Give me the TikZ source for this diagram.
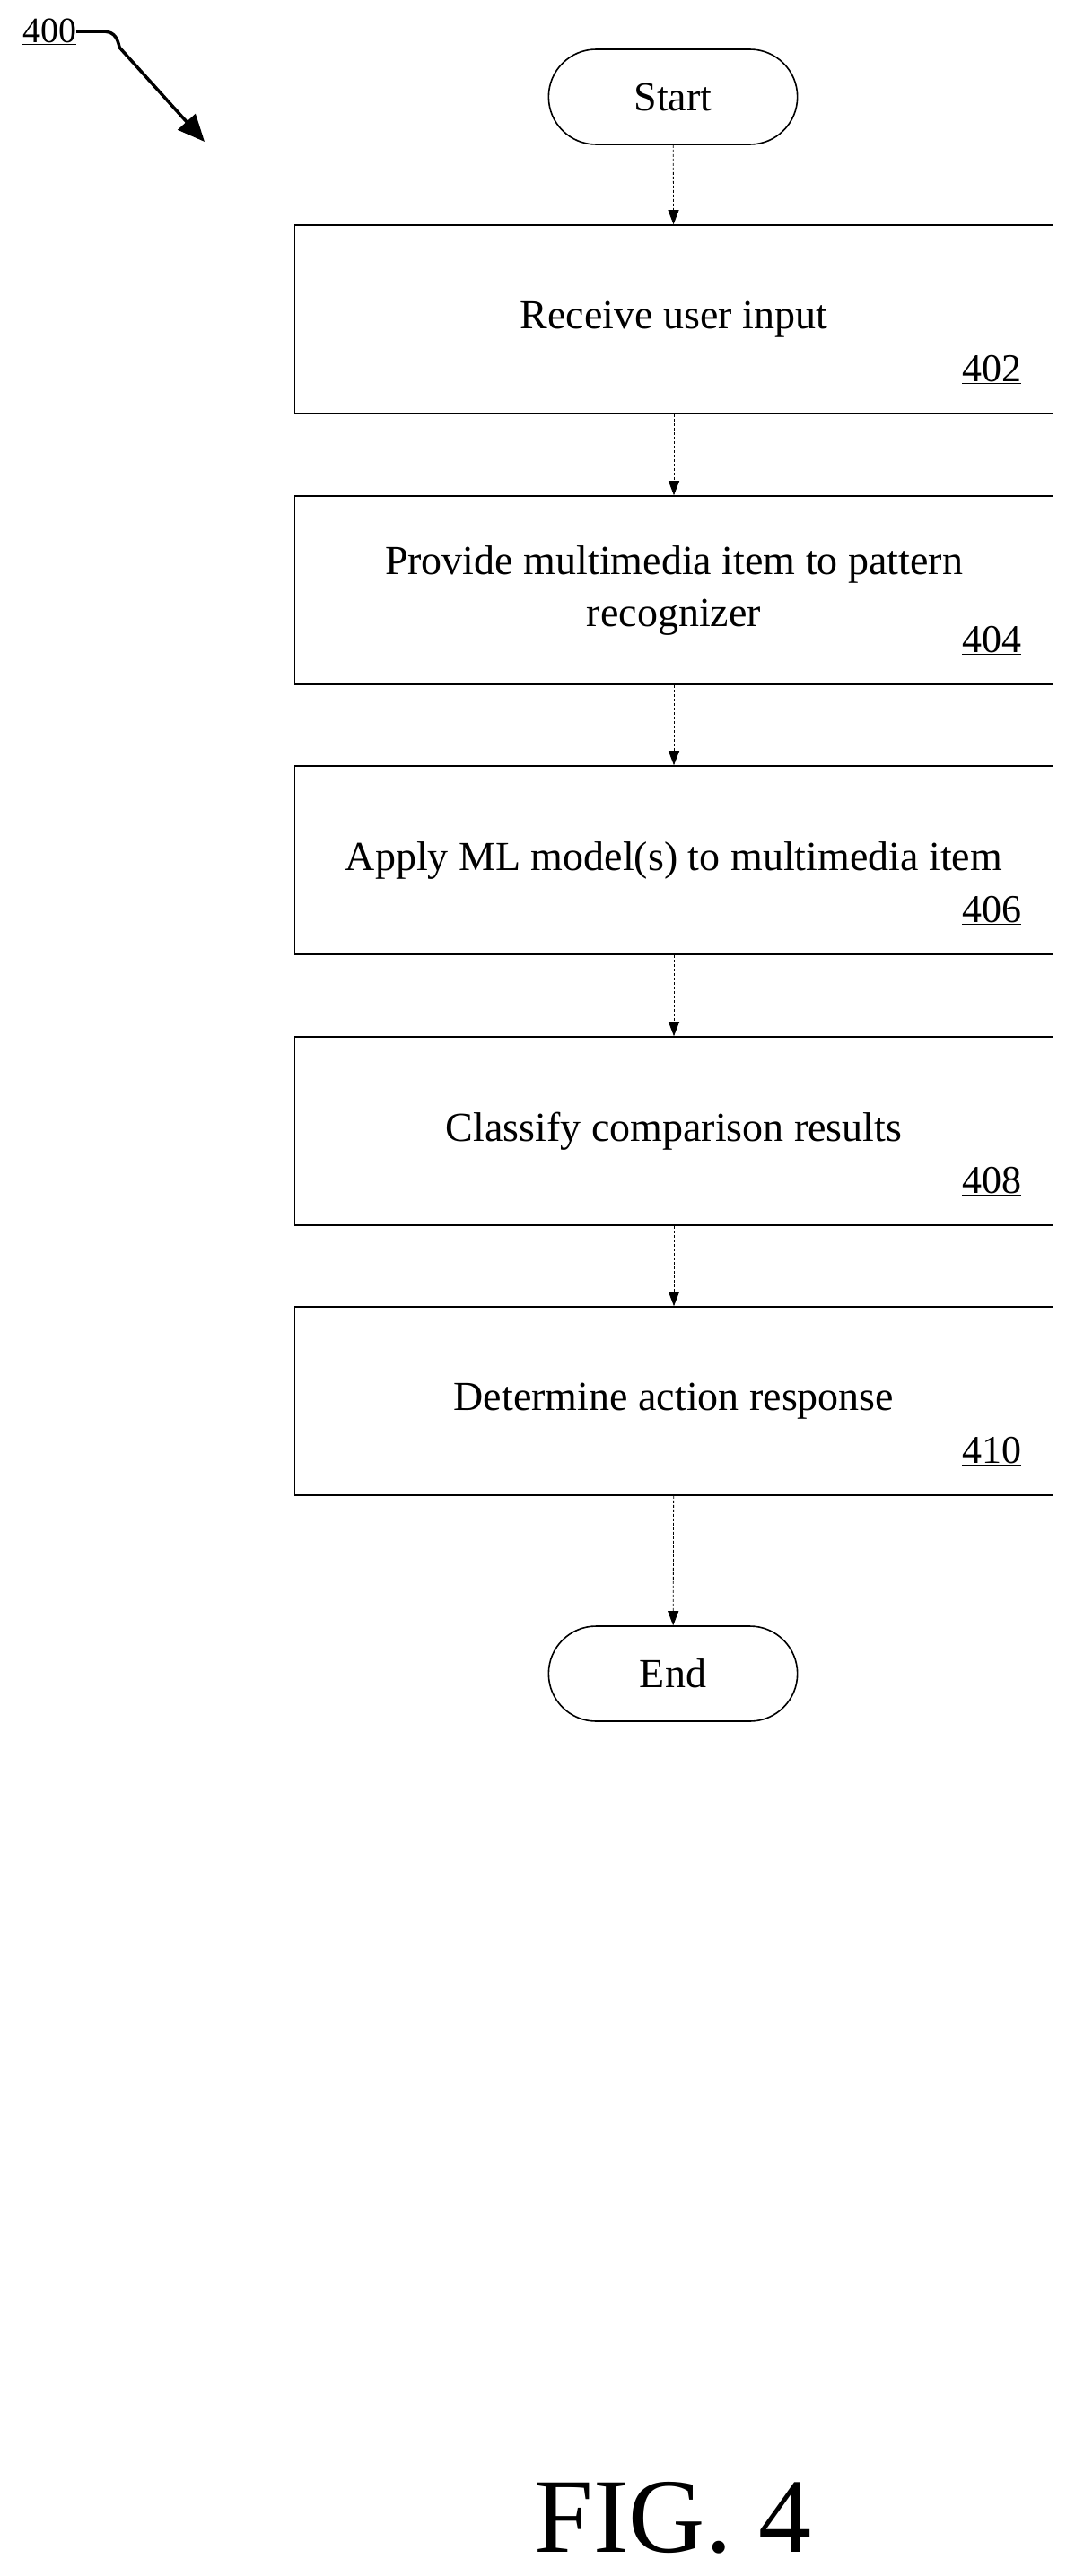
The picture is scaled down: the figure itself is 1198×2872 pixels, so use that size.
\documentclass[tikz,border=0pt]{standalone}
\usepackage{fontspec}
\setmainfont{Liberation Serif}
\usetikzlibrary{arrows.meta,shapes.misc}
\begin{document}
\begin{tikzpicture}[x=1pt,y=-1pt,
  box/.style={draw,line width=1.6pt,minimum width=845pt,minimum height=210pt,align=center,font=\fontsize{46}{58}\selectfont,inner sep=0pt},
  term/.style={draw,line width=1.6pt,rounded rectangle,minimum width=284pt,minimum height=106pt,font=\fontsize{46}{56}\selectfont},
  num/.style={font=\fontsize{44}{50}\selectfont,anchor=south east,inner sep=0pt},
  conn/.style={densely dashed,line width=0.8pt,-{Triangle[length=16pt,width=12pt]}}]
\useasboundingbox (0,0) rectangle (1198,2872);
\node[term] (start) at (750,108) {Start};
\node[box] (b1) at (751,356) {Receive user input};
\node[box] (b2) at (751,658) {Provide multimedia item to pattern\\recognizer};
\node[box] (b3) at (751,959) {Apply ML model(s) to multimedia item};
\node[box] (b4) at (751,1261) {Classify comparison results};
\node[box] (b5) at (751,1562) {Determine action response};
\node[term] (end) at (750,1866) {End};
\foreach \b/\n in {b1/402,b2/404,b3/406,b4/408,b5/410}
  \node[num] (n\n) at ([xshift=-36pt,yshift=34pt]\b.south east) {\underline{\n}};
\draw[conn] (start) -- (b1);
\draw[conn] (b1) -- (b2);
\draw[conn] (b2) -- (b3);
\draw[conn] (b3) -- (b4);
\draw[conn] (b4) -- (b5);
\draw[conn] (b5) -- (end);
\node[font=\fontsize{40}{46}\selectfont,inner sep=0pt] (lbl) at (55,35) {\underline{400}};
\coordinate (tip) at (228,158);
\draw[line width=3.5pt,-{Triangle[length=30pt,width=26pt]}] (lbl.east) -- ++(28,0) .. controls +(12,0) and +(-3,-14) .. ++(20,18) -- (tip);
\node[font=\fontsize{118}{130}\selectfont,inner sep=0pt] (fig) at (750,2807) {FIG. 4};
\end{tikzpicture}
\end{document}
